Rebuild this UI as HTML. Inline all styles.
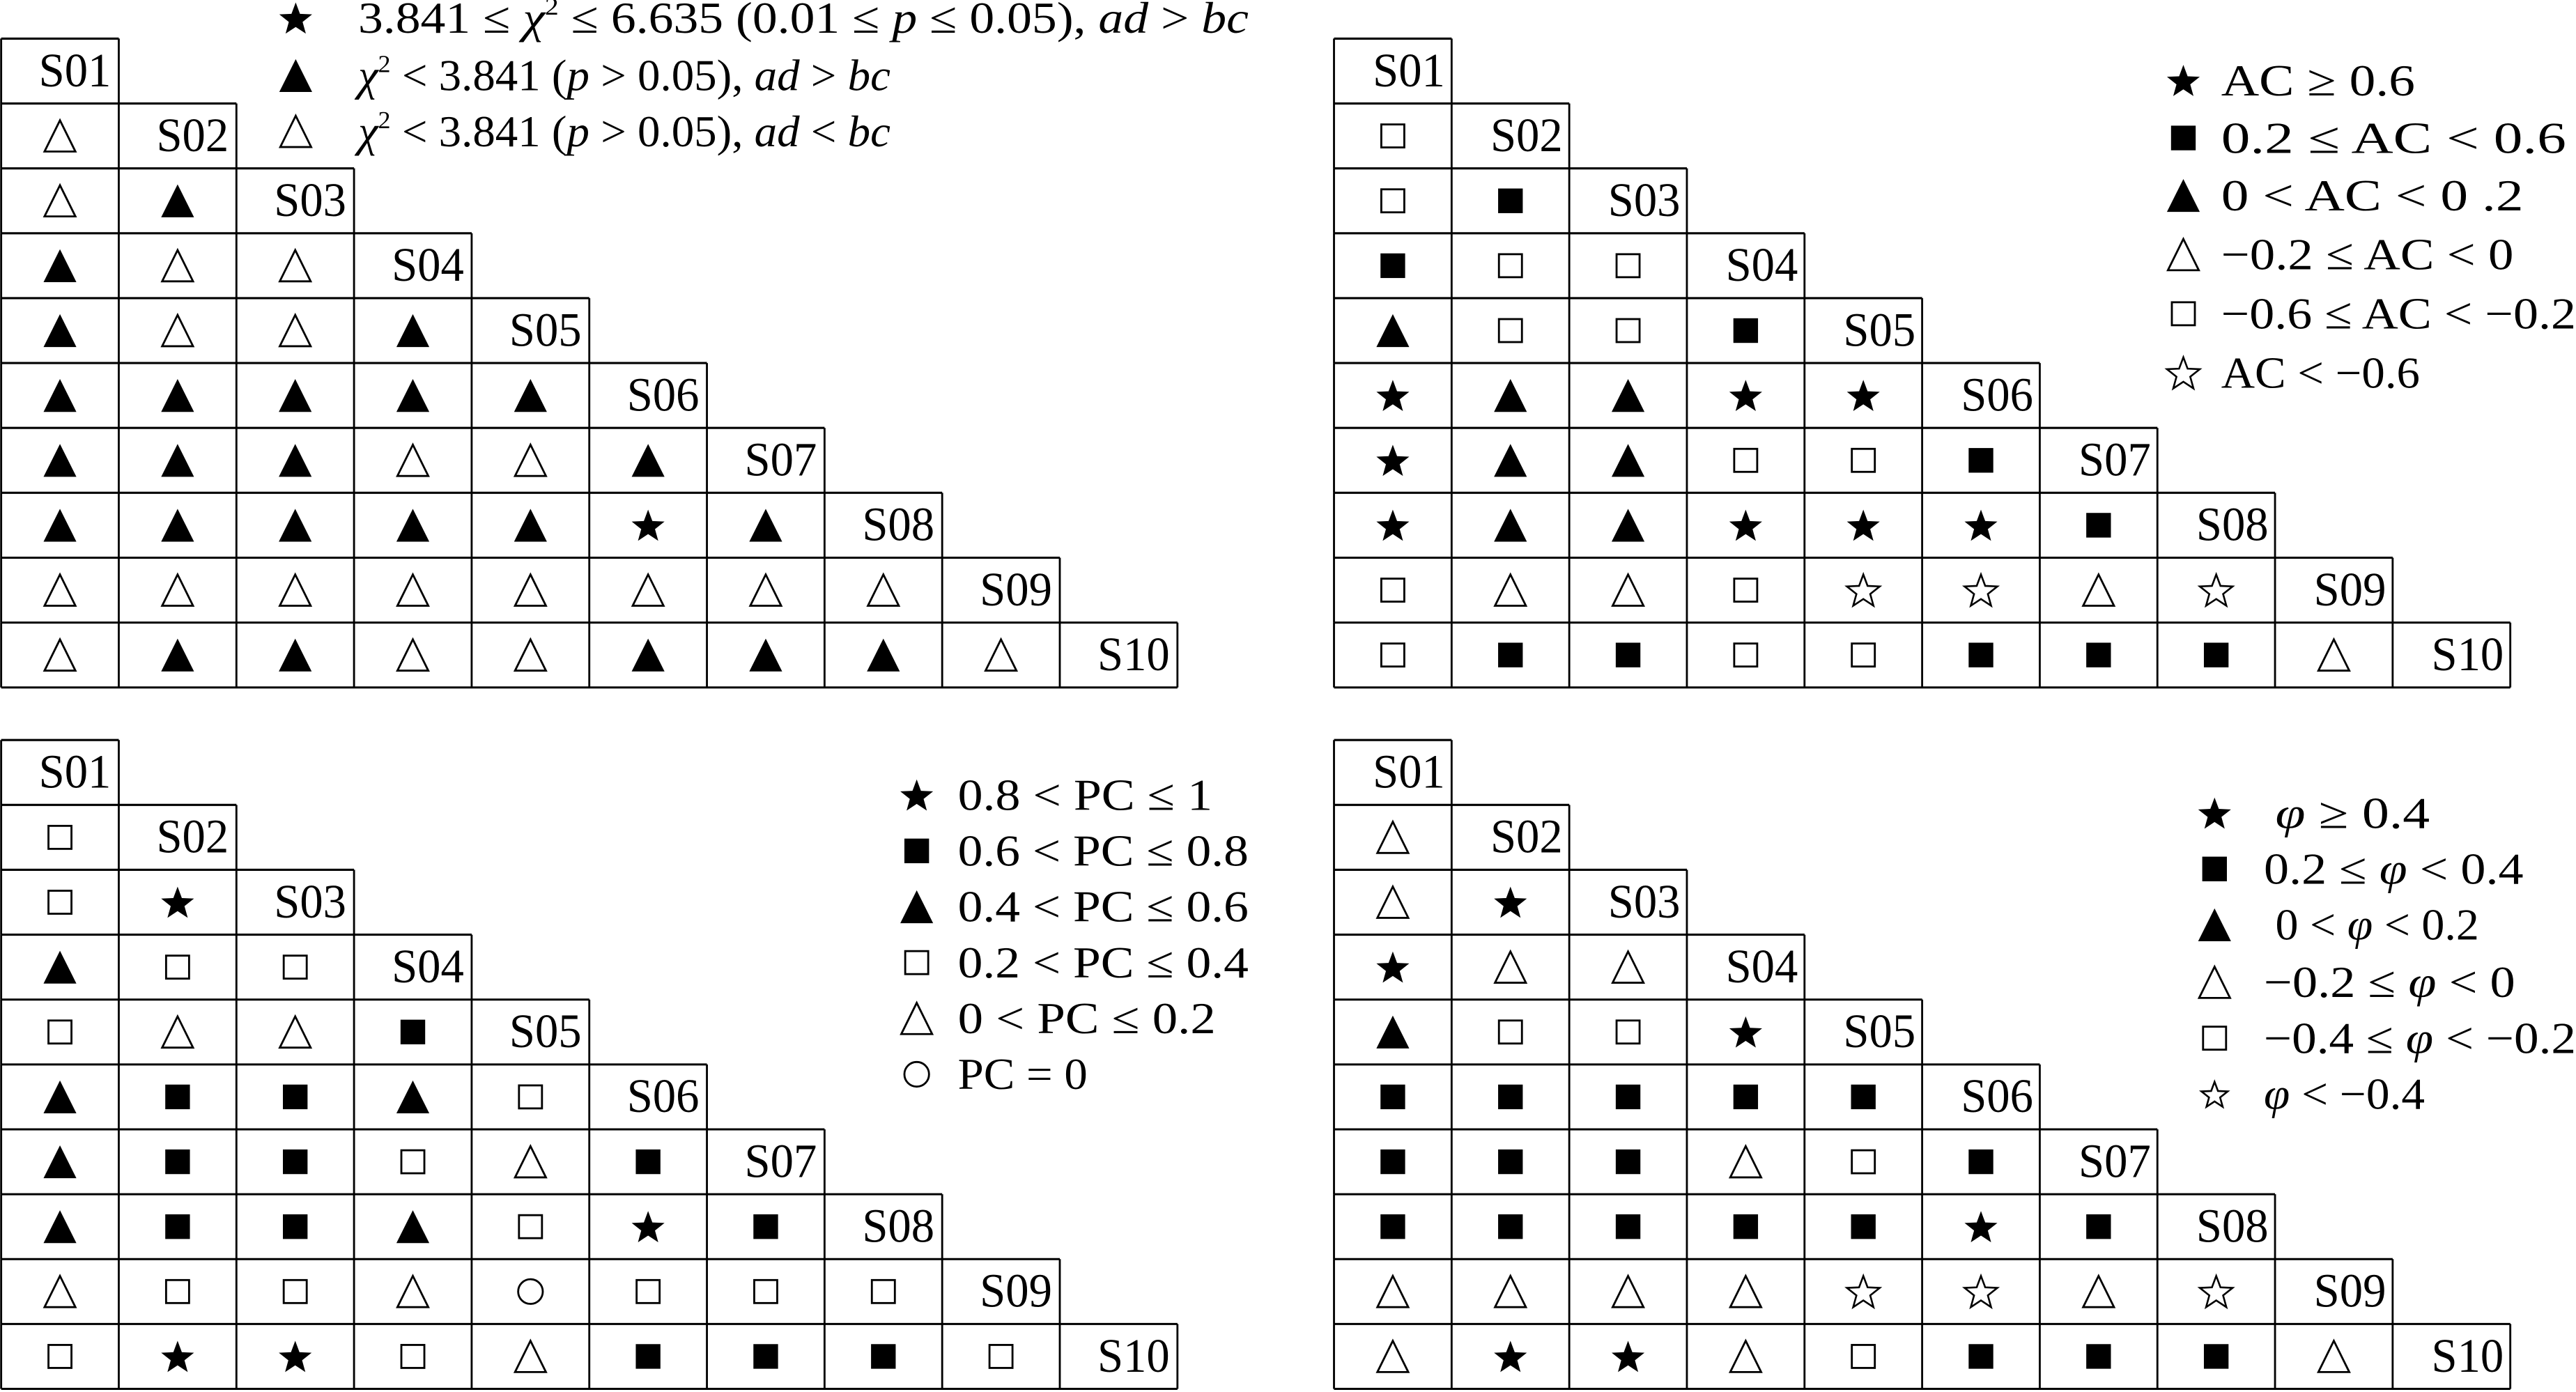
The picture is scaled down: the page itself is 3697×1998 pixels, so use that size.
<!DOCTYPE html>
<html><head><meta charset="utf-8"><style>
html,body{margin:0;padding:0;background:#fff;}
svg{display:block;}
text{font-family:"Liberation Serif","DejaVu Serif",serif;fill:#000;}
.lb{font-size:29px;text-anchor:end;}
.lg{font-size:27px;}
</style></head><body>
<svg id="s" width="3697" height="1998" viewBox="0 0 1568 847.4" preserveAspectRatio="none" xmlns="http://www.w3.org/2000/svg">
<g id="shapes"></g>
<g transform="translate(0,20.5)">
<text class="lb" x="67.6" y="32" textLength="44" lengthAdjust="spacingAndGlyphs">S01</text><text class="lb" x="139.2" y="71.5" textLength="44" lengthAdjust="spacingAndGlyphs">S02</text><text class="lb" x="210.8" y="111" textLength="44" lengthAdjust="spacingAndGlyphs">S03</text><text class="lb" x="282.4" y="150.5" textLength="44" lengthAdjust="spacingAndGlyphs">S04</text><text class="lb" x="354" y="190" textLength="44" lengthAdjust="spacingAndGlyphs">S05</text><text class="lb" x="425.6" y="229.5" textLength="44" lengthAdjust="spacingAndGlyphs">S06</text><text class="lb" x="497.2" y="269" textLength="44" lengthAdjust="spacingAndGlyphs">S07</text><text class="lb" x="568.8" y="308.5" textLength="44" lengthAdjust="spacingAndGlyphs">S08</text><text class="lb" x="640.4" y="348" textLength="44" lengthAdjust="spacingAndGlyphs">S09</text><text class="lb" x="712" y="387.5" textLength="44" lengthAdjust="spacingAndGlyphs">S10</text>
</g>
<g transform="translate(812,20.5)">
<text class="lb" x="67.6" y="32" textLength="44" lengthAdjust="spacingAndGlyphs">S01</text><text class="lb" x="139.2" y="71.5" textLength="44" lengthAdjust="spacingAndGlyphs">S02</text><text class="lb" x="210.8" y="111" textLength="44" lengthAdjust="spacingAndGlyphs">S03</text><text class="lb" x="282.4" y="150.5" textLength="44" lengthAdjust="spacingAndGlyphs">S04</text><text class="lb" x="354" y="190" textLength="44" lengthAdjust="spacingAndGlyphs">S05</text><text class="lb" x="425.6" y="229.5" textLength="44" lengthAdjust="spacingAndGlyphs">S06</text><text class="lb" x="497.2" y="269" textLength="44" lengthAdjust="spacingAndGlyphs">S07</text><text class="lb" x="568.8" y="308.5" textLength="44" lengthAdjust="spacingAndGlyphs">S08</text><text class="lb" x="640.4" y="348" textLength="44" lengthAdjust="spacingAndGlyphs">S09</text><text class="lb" x="712" y="387.5" textLength="44" lengthAdjust="spacingAndGlyphs">S10</text>
</g>
<g transform="translate(0,447.5)">
<text class="lb" x="67.6" y="32" textLength="44" lengthAdjust="spacingAndGlyphs">S01</text><text class="lb" x="139.2" y="71.5" textLength="44" lengthAdjust="spacingAndGlyphs">S02</text><text class="lb" x="210.8" y="111" textLength="44" lengthAdjust="spacingAndGlyphs">S03</text><text class="lb" x="282.4" y="150.5" textLength="44" lengthAdjust="spacingAndGlyphs">S04</text><text class="lb" x="354" y="190" textLength="44" lengthAdjust="spacingAndGlyphs">S05</text><text class="lb" x="425.6" y="229.5" textLength="44" lengthAdjust="spacingAndGlyphs">S06</text><text class="lb" x="497.2" y="269" textLength="44" lengthAdjust="spacingAndGlyphs">S07</text><text class="lb" x="568.8" y="308.5" textLength="44" lengthAdjust="spacingAndGlyphs">S08</text><text class="lb" x="640.4" y="348" textLength="44" lengthAdjust="spacingAndGlyphs">S09</text><text class="lb" x="712" y="387.5" textLength="44" lengthAdjust="spacingAndGlyphs">S10</text>
</g>
<g transform="translate(812,447.5)">
<text class="lb" x="67.6" y="32" textLength="44" lengthAdjust="spacingAndGlyphs">S01</text><text class="lb" x="139.2" y="71.5" textLength="44" lengthAdjust="spacingAndGlyphs">S02</text><text class="lb" x="210.8" y="111" textLength="44" lengthAdjust="spacingAndGlyphs">S03</text><text class="lb" x="282.4" y="150.5" textLength="44" lengthAdjust="spacingAndGlyphs">S04</text><text class="lb" x="354" y="190" textLength="44" lengthAdjust="spacingAndGlyphs">S05</text><text class="lb" x="425.6" y="229.5" textLength="44" lengthAdjust="spacingAndGlyphs">S06</text><text class="lb" x="497.2" y="269" textLength="44" lengthAdjust="spacingAndGlyphs">S07</text><text class="lb" x="568.8" y="308.5" textLength="44" lengthAdjust="spacingAndGlyphs">S08</text><text class="lb" x="640.4" y="348" textLength="44" lengthAdjust="spacingAndGlyphs">S09</text><text class="lb" x="712" y="387.5" textLength="44" lengthAdjust="spacingAndGlyphs">S10</text>
</g>
<!-- legends -->
<text class="lg" x="218" y="20" textLength="542" lengthAdjust="spacingAndGlyphs">3.841 ≤ <tspan font-style="italic">χ</tspan><tspan font-size="15" dy="-11">2</tspan><tspan dy="11"> ≤ 6.635 (0.01 ≤ </tspan><tspan font-style="italic">p</tspan> ≤ 0.05), <tspan font-style="italic">ad</tspan> &gt; <tspan font-style="italic">bc</tspan></text>
<text class="lg" x="218" y="55" textLength="324" lengthAdjust="spacingAndGlyphs"><tspan font-style="italic">χ</tspan><tspan font-size="15" dy="-11">2</tspan><tspan dy="11"> &lt; 3.841 (</tspan><tspan font-style="italic">p</tspan> &gt; 0.05), <tspan font-style="italic">ad</tspan> &gt; <tspan font-style="italic">bc</tspan></text>
<text class="lg" x="218" y="89" textLength="324" lengthAdjust="spacingAndGlyphs"><tspan font-style="italic">χ</tspan><tspan font-size="15" dy="-11">2</tspan><tspan dy="11"> &lt; 3.841 (</tspan><tspan font-style="italic">p</tspan> &gt; 0.05), <tspan font-style="italic">ad</tspan> &lt; <tspan font-style="italic">bc</tspan></text>

<text class="lg" x="1352" y="58" textLength="118" lengthAdjust="spacingAndGlyphs">AC ≥ 0.6</text>
<text class="lg" x="1352" y="93" textLength="210" lengthAdjust="spacingAndGlyphs">0.2 ≤ AC &lt; 0.6</text>
<text class="lg" x="1352" y="128" textLength="184" lengthAdjust="spacingAndGlyphs">0 &lt; AC &lt; 0 .2</text>
<text class="lg" x="1352" y="164" textLength="178" lengthAdjust="spacingAndGlyphs">−0.2 ≤ AC &lt; 0</text>
<text class="lg" x="1352" y="200" textLength="216" lengthAdjust="spacingAndGlyphs">−0.6 ≤ AC &lt; −0.2</text>
<text class="lg" x="1352" y="236" textLength="121" lengthAdjust="spacingAndGlyphs">AC &lt; −0.6</text>

<text class="lg" x="583" y="493" textLength="155" lengthAdjust="spacingAndGlyphs">0.8 &lt; PC ≤ 1</text>
<text class="lg" x="583" y="527" textLength="177" lengthAdjust="spacingAndGlyphs">0.6 &lt; PC ≤ 0.8</text>
<text class="lg" x="583" y="561" textLength="177" lengthAdjust="spacingAndGlyphs">0.4 &lt; PC ≤ 0.6</text>
<text class="lg" x="583" y="595" textLength="177" lengthAdjust="spacingAndGlyphs">0.2 &lt; PC ≤ 0.4</text>
<text class="lg" x="583" y="629" textLength="157" lengthAdjust="spacingAndGlyphs">0 &lt; PC ≤ 0.2</text>
<text class="lg" x="583" y="663" textLength="79" lengthAdjust="spacingAndGlyphs">PC = 0</text>

<text class="lg" x="1385" y="504" textLength="94" lengthAdjust="spacingAndGlyphs"><tspan font-style="italic">φ</tspan> ≥ 0.4</text>
<text class="lg" x="1378" y="538" textLength="158" lengthAdjust="spacingAndGlyphs">0.2 ≤ <tspan font-style="italic">φ</tspan> &lt; 0.4</text>
<text class="lg" x="1385" y="572" textLength="124" lengthAdjust="spacingAndGlyphs">0 &lt; <tspan font-style="italic">φ</tspan> &lt; 0.2</text>
<text class="lg" x="1378" y="607" textLength="153" lengthAdjust="spacingAndGlyphs">−0.2 ≤ <tspan font-style="italic">φ</tspan> &lt; 0</text>
<text class="lg" x="1378" y="641" textLength="190" lengthAdjust="spacingAndGlyphs">−0.4 ≤ <tspan font-style="italic">φ</tspan> &lt; −0.2</text>
<text class="lg" x="1378" y="675" textLength="98" lengthAdjust="spacingAndGlyphs"><tspan font-style="italic">φ</tspan> &lt; −0.4</text>
</svg>
<script>
(function(){
var NS="http://www.w3.org/2000/svg",g=document.getElementById("shapes");
function el(n,a){var e=document.createElementNS(NS,n);for(var k in a)e.setAttribute(k,a[k]);g.appendChild(e);return e;}
function star(cx,cy,R){var r=R*0.42,p=[];for(var i=0;i<10;i++){var a=-Math.PI/2+i*Math.PI/5,rr=i%2?r:R;p.push((cx+rr*Math.cos(a)).toFixed(2)+","+(cy+rr*Math.sin(a)).toFixed(2));}return p.join(" ");}
function sym(c,x,y,sc){sc=sc||1;
 var tw=10*sc,th=10*sc;
 if(c=="T")el("polygon",{points:(x)+","+(y-th)+" "+(x-tw)+","+(y+th)+" "+(x+tw)+","+(y+th),fill:"#000"});
 else if(c=="t")el("polygon",{points:(x)+","+(y-th+0.5)+" "+(x-tw+0.6)+","+(y+th-0.5)+" "+(x+tw-0.6)+","+(y+th-0.5),fill:"none",stroke:"#000","stroke-width":1.2});
 else if(c=="Q"){var s=7.5*sc;el("rect",{x:x-s,y:y-s,width:2*s,height:2*s,fill:"#000"});}
 else if(c=="q"){var s=7*sc;el("rect",{x:x-s,y:y-s,width:2*s,height:2*s,fill:"none",stroke:"#000","stroke-width":1.2});}
 else if(c=="S")el("polygon",{points:star(x,y+1,10.5*sc),fill:"#000"});
 else if(c=="s")el("polygon",{points:star(x,y+1,10.5*sc),fill:"none",stroke:"#000","stroke-width":1.1});
 else if(c=="o")el("circle",{cx:x,cy:y,r:7.5*sc,fill:"none",stroke:"#000","stroke-width":1.2});
}
var CW=71.6,RH=39.5;
function panel(x0,y0,data){
 for(var i=0;i<10;i++){
  var top=y0+i*RH,bot=top+RH;
  el("line",{x1:x0,y1:top,x2:x0+(i+1)*CW,y2:top,stroke:"#000","stroke-width":1.3});
  for(var j=0;j<=i+1;j++)el("line",{x1:x0+j*CW,y1:top,x2:x0+j*CW,y2:bot,stroke:"#000","stroke-width":1.2});
  if(i>0){var r=data[i-1].split(" ");for(var j=0;j<r.length;j++)sym(r[j],x0+j*CW+CW/2,top+RH/2);}
 }
 el("line",{x1:x0,y1:y0+10*RH,x2:x0+10*CW,y2:y0+10*RH,stroke:"#000","stroke-width":1.3});
}
panel(0.7,23.5,["t","t T","T t t","T t t T","T T T T T","T T T t t T","T T T T T S T","t t t t t t t t","t T T t t T T T t"]);
panel(812,23.5,["q","q Q","Q q q","T q q Q","S T T S S","S T T q q Q","S T T S S S Q","q t t q s s t s","q Q Q q q Q Q Q t"]);
panel(0.7,450.5,["q","q S","T q q","q t t Q","T Q Q T q","T Q Q q t Q","T Q Q T q S Q","t q q t o q q q","q S S q t Q Q Q q"]);
panel(812,450.5,["t","t S","S t t","T q q S","Q Q Q Q Q","Q Q Q t q Q","Q Q Q Q Q S Q","t t t t s s t s","t S S t q Q Q Q t"]);
var ty=[49,84,119,155,191,227],tc=["S","Q","T","t","q","s"];
sym("S",180,11);sym("T",180,46);sym("t",180,80);
for(var i=0;i<6;i++)sym(tc[i],1329,ty[i]);
var by=[484,518,552,586,620,654],bc=["S","Q","T","q","t","o"];
for(var i=0;i<6;i++)sym(bc[i],558,by[i]);
var ry=[495,529,563,598,632,666],rc=["S","Q","T","t","q","s"];
for(var i=0;i<6;i++)sym(rc[i],1348,ry[i],rc[i]=="s"?0.8:1);
})();
</script>
</body></html>
